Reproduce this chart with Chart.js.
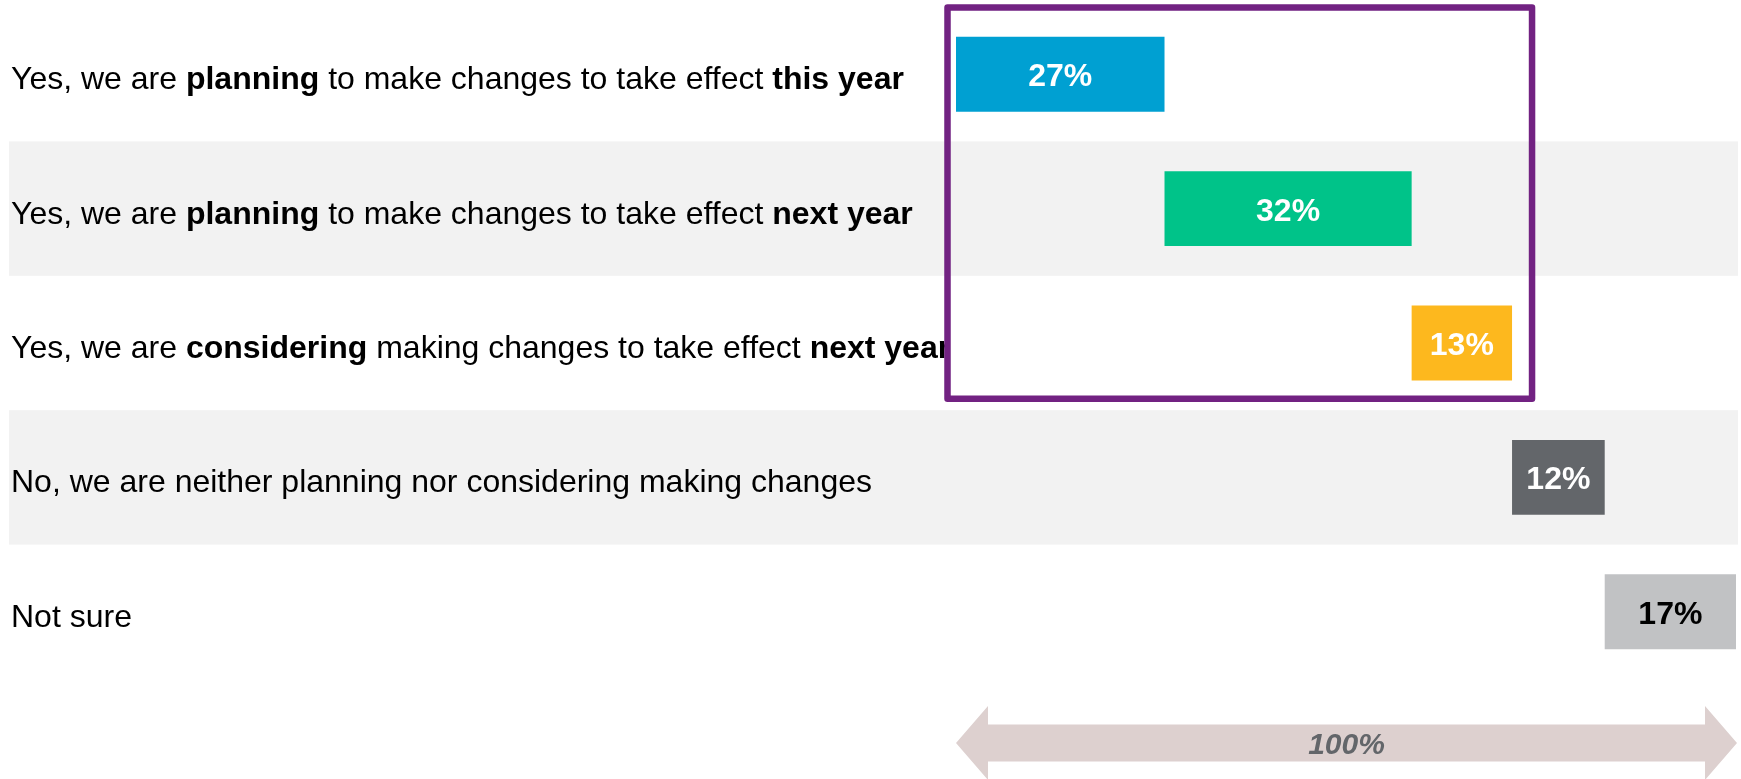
<!DOCTYPE html>
<html>
<head>
<meta charset="utf-8">
<title>Plans to make changes</title>
<script src="https://cdn.jsdelivr.net/npm/chart.js@4.4.1/dist/chart.umd.min.js"></script>
<style>
  html, body { margin: 0; padding: 0; background: #ffffff; }
  #wrap { position: relative; width: 1741px; height: 779px; }
</style>
</head>
<body>
<div id="wrap"><canvas id="chart"></canvas></div>
<script>
// answers, the bold words are wrapped in **
const categories = [
    'Yes, we are **planning** to make changes to take effect **this year**',
    'Yes, we are **planning** to make changes to take effect **next year**',
    'Yes, we are **considering** making changes to take effect **next year**',
    'No, we are neither planning nor considering making changes',
    'Not sure'
];
const values = [27, 32, 13, 12, 17];
const barColors = ['#00A0D2', '#00C389', '#FDB81E', '#63666A', '#C1C2C4'];
const labelColors = ['#FFFFFF', '#FFFFFF', '#FFFFFF', '#FFFFFF', '#000000'];
const totalLabel = '100%';
const shadedRows = [1, 3];
const boxedRows = [0, 2];

const FONT = '"Liberation Sans", Arial, Helvetica, sans-serif';

// each bar starts where the previous one ended
const ranges = [];
let running = 0;
values.forEach(v => {
    ranges.push([running, running + v]);
    running += v;
});

const decorations = {
    id: 'decorations',
    beforeDatasetsDraw(chart) {
        const { ctx, scales: { x, y } } = chart;
        const rowH = y.getPixelForValue(1) - y.getPixelForValue(0);
        ctx.save();

        // grey stripes behind every other row
        ctx.fillStyle = '#F2F2F2';
        shadedRows.forEach(i => {
            const c = y.getPixelForValue(i);
            ctx.fillRect(9, c - rowH / 2, x.right + 2 - 9, rowH);
        });

        // answer texts with bold parts
        ctx.fillStyle = '#000000';
        ctx.textAlign = 'left';
        ctx.textBaseline = 'alphabetic';
        categories.forEach((label, i) => {
            let cx = 11;
            const base = y.getPixelForValue(i) + 15;
            label.split('**').forEach((part, k) => {
                ctx.font = (k % 2 ? 'bold ' : '') + '32px ' + FONT;
                ctx.fillText(part, cx, base);
                cx += ctx.measureText(part).width;
            });
        });
        ctx.restore();
    },
    afterDatasetsDraw(chart) {
        const { ctx, scales: { x, y } } = chart;
        const rowH = y.getPixelForValue(1) - y.getPixelForValue(0);
        ctx.save();

        // value labels in the middle of each bar
        ctx.font = 'bold 32px ' + FONT;
        ctx.textAlign = 'center';
        ctx.textBaseline = 'alphabetic';
        chart.getDatasetMeta(0).data.forEach((bar, i) => {
            ctx.fillStyle = labelColors[i];
            ctx.fillText(values[i] + '%', (bar.x + bar.base) / 2, bar.y + 12);
        });

        // purple frame round the "yes" answers
        const left = x.getPixelForValue(0) - 8.5;
        const right = x.getPixelForValue(ranges[boxedRows[1]][1]) + 20;
        const top = y.getPixelForValue(boxedRows[0]) - rowH / 2 + 0.5;
        const bottom = y.getPixelForValue(boxedRows[1]) + rowH / 2 - 11.5;
        ctx.strokeStyle = '#722282';
        ctx.lineWidth = 6.5;
        ctx.lineJoin = 'round';
        ctx.strokeRect(left, top, right - left, bottom - top);

        // double arrow spanning the whole scale
        const ax0 = x.getPixelForValue(0);
        const ax1 = x.right + 1;
        const cy = chart.chartArea.bottom + 64;
        const shaft = 18.5, head = 37, headLen = 32;
        ctx.fillStyle = '#DDD0CF';
        ctx.beginPath();
        ctx.moveTo(ax0, cy);
        ctx.lineTo(ax0 + headLen, cy - head);
        ctx.lineTo(ax0 + headLen, cy - shaft);
        ctx.lineTo(ax1 - headLen, cy - shaft);
        ctx.lineTo(ax1 - headLen, cy - head);
        ctx.lineTo(ax1, cy);
        ctx.lineTo(ax1 - headLen, cy + head);
        ctx.lineTo(ax1 - headLen, cy + shaft);
        ctx.lineTo(ax0 + headLen, cy + shaft);
        ctx.lineTo(ax0 + headLen, cy + head);
        ctx.closePath();
        ctx.fill();

        ctx.font = 'italic bold 30px ' + FONT;
        ctx.fillStyle = '#63666A';
        ctx.textAlign = 'center';
        ctx.fillText(totalLabel, (ax0 + ax1) / 2, cy + 10.5);
        ctx.restore();
    }
};

new Chart(document.getElementById('chart'), {
    type: 'bar',
    data: {
        labels: categories,
        datasets: [{
            data: ranges,
            backgroundColor: barColors,
            borderWidth: 0,
            barPercentage: 0.557,
            categoryPercentage: 1
        }]
    },
    options: {
        indexAxis: 'y',
        responsive: true,
        maintainAspectRatio: false,
        animation: false,
        devicePixelRatio: 1,
        layout: {
            padding: { left: 956, right: 5, top: 7, bottom: 100 }
        },
        scales: {
            x: { display: false, min: 0, max: running, grid: { display: false } },
            y: { display: false, grid: { display: false } }
        },
        plugins: {
            legend: { display: false },
            tooltip: { enabled: false }
        }
    },
    plugins: [decorations]
});
</script>
</body>
</html>
